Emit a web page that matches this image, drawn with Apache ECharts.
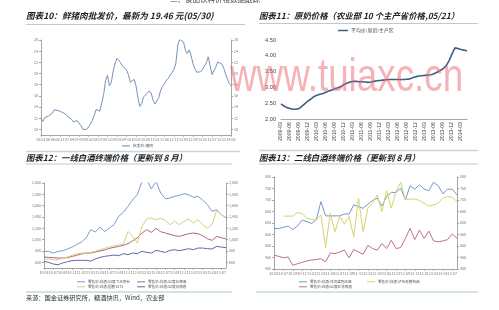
<!DOCTYPE html>
<html><head><meta charset="utf-8">
<script src="https://cdn.jsdelivr.net/npm/echarts@6/dist/echarts.min.js"></script>
<style>html,body{margin:0;padding:0;background:#fff}#c{width:499px;height:310px}</style>
</head><body><div id="c"></div>
<script>
function monthList(y, m, n, fmt) {
  const out = [];
  for (let i = 0; i < n; i++) { out.push(fmt(y, m)); m++; if (m > 12) { m = 1; y++; } }
  return out;
}
const pad = v => (v < 10 ? '0' : '') + v;

// Chart 10: pork wholesale price (monthly)
const porkMonths = monthList(2006, 1, 101, (y, m) => pad(y % 100) + '-' + pad(m));
const porkPrice = [11.94,11.45,12.12,12.18,12.42,12.67,12.91,13.52,13.82,13.39,13.21,13.09,12.97,12.73,12.30,12.12,11.82,11.33,11.09,11.58,11.45,10.67,10.00,9.76,10.00,10.42,10.97,11.64,12.48,13.58,13.64,13.27,14.79,16.30,18.73,19.64,17.82,18.42,20.42,21.88,22.73,22.67,21.88,21.27,21.03,20.67,19.82,18.42,18.48,18.97,17.82,15.70,14.12,14.61,15.82,16.06,16.48,16.91,16.48,15.21,14.55,14.61,15.70,17.03,17.70,18.18,18.79,19.15,19.70,20.18,20.73,21.88,25.09,26.12,26.24,25.64,24.18,23.58,24.24,23.21,21.76,20.85,20.24,19.94,20.30,20.73,20.79,21.88,22.97,21.45,19.82,20.12,21.15,22.06,21.76,21.76,21.15,20.06,19.15,18.24,17.82];
const porkTicks = [10,12,14,16,18,20,22,24,26];

// Chart 11: raw milk price (monthly)
const milkMonths = monthList(2009, 3, 63, (y, m) => y + '-' + pad(m));
const milkPrice = [2.48,2.41,2.36,2.33,2.31,2.31,2.33,2.41,2.49,2.57,2.64,2.71,2.75,2.78,2.81,2.85,2.89,2.92,2.96,2.99,3.03,3.09,3.13,3.17,3.19,3.19,3.18,3.18,3.17,3.16,3.17,3.19,3.21,3.22,3.23,3.24,3.25,3.25,3.25,3.25,3.25,3.25,3.26,3.27,3.31,3.34,3.36,3.37,3.38,3.39,3.40,3.43,3.48,3.53,3.59,3.68,3.84,4.06,4.25,4.23,4.20,4.18,4.15];

// Chart 12: tier-1 baijiu retail prices
const tier1Months = monthList(2010, 5, 40, (y, m) => pad(y % 100) + '-' + pad(m));
const maotai = [793,793,764,793,805,834,870,911,958,1029,1176,1135,1223,1141,1205,1264,1411,1482,1588,1705,1794,2029,2070,1894,2029,1823,1723,1735,1764,1782,1811,1794,1747,1764,1700,1620,1500,1530,1440,1390];
const wuliangye = [694,688,682,676,676,682,705,723,747,764,764,782,800,817,847,864,882,899,929,982,1029,1117,1176,1129,1200,1141,1117,1094,1070,1058,1082,1105,1117,1105,1070,1017,988,1058,1035,1011];
const guojiao = [659,659,647,647,670,694,723,747,764,764,776,794,823,847,870,888,905,917,1146,1058,941,1235,1364,1382,1352,1376,1341,1264,1323,1264,1323,1364,1294,1352,1264,1205,1264,1517,1441,1382];
const jiannanchun = [617,600,570,558,588,611,629,635,635,635,623,659,688,705,717,729,717,753,735,764,753,794,776,764,811,794,776,811,823,806,823,841,823,852,852,841,835,882,870,858];
const tier1Ticks = [600,800,1000,1200,1400,1600,1800,2000];

// Chart 13: tier-2 baijiu retail prices
const tier2Months = monthList(2010, 5, 40, (y, m) => pad(y % 100) + '-' + pad(m));
const yanghe = [576,576,581,587,572,587,613,606,598,613,693,631,631,631,631,639,639,679,671,664,682,698,708,674,715,733,733,752,701,762,747,766,747,741,777,762,727,747,747,722];
const laojiao = [null,null,630,630,630,645,642,620,616,613,635,493,642,562,628,595,628,540,708,562,664,686,722,649,741,664,737,777,701,704,704,698,686,674,679,686,708,715,712,693];
const langjiu = [460,455,449,452,416,423,429,435,439,441,445,431,470,467,474,482,449,485,474,464,503,489,482,511,489,525,489,493,533,577,528,569,533,565,522,518,522,528,552,533];
const tier2Ticks = [400,450,500,550,600,650,700,750,800];

const CJK = '"Noto Sans CJK SC", "Noto Sans", sans-serif';
const axisGray = '#8f8f8f';
const tinyLbl = { fontSize: 3.6, color: '#777', fontFamily: CJK };

function valAxis(grid, pos, min, max, ticks, lbl) {
  return {
    type: 'value', gridIndex: grid, position: pos, min: min, max: max,
    axisLine: { show: true, lineStyle: { color: axisGray, width: 0.8 } },
    axisTick: { show: true, length: 2, customValues: ticks, lineStyle: { color: axisGray, width: 0.8 } },
    axisLabel: Object.assign({ customValues: ticks, margin: 3 }, lbl),
    splitLine: { show: false }
  };
}
function catAxis(grid, data, interval, lbl) {
  return {
    type: 'category', gridIndex: grid, data: data, boundaryGap: false,
    axisLine: { lineStyle: { color: axisGray, width: 0.8 } },
    axisTick: { show: true, length: 2, interval: interval, lineStyle: { color: axisGray, width: 0.6 } },
    axisLabel: Object.assign({ interval: interval, margin: 3 }, lbl)
  };
}
function lineS(name, data, x, y, color, w) {
  return { type: 'line', name: name, data: data, xAxisIndex: x, yAxisIndex: y, symbol: 'none',
    lineStyle: { color: color, width: w }, itemStyle: { color: color }, connectNulls: false, animation: false };
}
function leg(name, left, top, size) {
  return { data: [name], left: left, top: top, icon: 'rect', itemWidth: 8, itemHeight: 1, itemGap: 2,
    padding: 0, textStyle: { fontSize: size, color: '#555', fontFamily: CJK, padding: [0, 0, 0, -2] }, selectedMode: false };
}
function txt(text, x, y, size, opts) {
  return { type: 'text', x: x, y: y, z: 50, style: Object.assign({ text: text, fontSize: size, fontFamily: CJK,
    fill: '#1f1f1f', verticalAlign: 'middle' }, opts || {}) };
}
function hline(x1, x2, y, color, w) {
  return { type: 'line', z: 40, shape: { x1: x1, y1: y, x2: x2, y2: y }, style: { stroke: color, lineWidth: w } };
}

const titleStyle = { fontWeight: 'bold', fontStyle: 'italic' };
const sepColor = '#c6d8e4';

const option = {
  backgroundColor: '#ffffff',
  animation: false,
  grid: [
    { left: 41, right: 268, top: 40, bottom: 175, outerBoundsMode: 'none' },
    { left: 281, right: 32, top: 40, bottom: 191, outerBoundsMode: 'none' },
    { left: 44, right: 273, top: 183, bottom: 42, outerBoundsMode: 'none' },
    { left: 274, right: 42, top: 177, bottom: 41, outerBoundsMode: 'none' }
  ],
  xAxis: [
    catAxis(0, porkMonths, 4, tinyLbl),
    Object.assign(catAxis(1, milkMonths, 2, { fontSize: 5.2, color: '#444', rotate: 90, fontFamily: 'Liberation Sans' }), { axisTick: { show: false } }),
    catAxis(2, tier1Months, 1, tinyLbl),
    catAxis(3, tier2Months, 1, tinyLbl)
  ],
  yAxis: [
    valAxis(0, 'left', 9, 26, porkTicks, tinyLbl),
    valAxis(0, 'right', 9, 26, porkTicks, tinyLbl),
    { type: 'value', gridIndex: 1, min: 2, max: 4.5, interval: 0.5,
      axisLine: { show: false }, axisTick: { show: false }, splitLine: { show: false },
      axisLabel: { fontSize: 5.6, color: '#444', margin: 5, fontFamily: 'Liberation Sans', formatter: v => v.toFixed(2) } },
    valAxis(2, 'left', 500, 2000, tier1Ticks, tinyLbl),
    valAxis(2, 'right', 500, 2000, tier1Ticks, tinyLbl),
    valAxis(3, 'left', 400, 800, tier2Ticks, tinyLbl),
    valAxis(3, 'right', 400, 800, tier2Ticks, tinyLbl)
  ],
  legend: [
    leg('批发价:猪肉', 122, 144, 3.8),
    Object.assign(leg('平均价:原奶:主产区', 338, 28, 5), { itemWidth: 10, itemHeight: 1.5 }),
    leg('零售价:白酒:53度飞天茅台', 77, 280, 3.6),
    leg('零售价:白酒:52度五粮液', 137, 280, 3.6),
    leg('零售价:白酒:国窖1573', 77, 285, 3.6),
    leg('零售价:白酒:52度剑南春', 137, 285, 3.6),
    leg('零售价:白酒:洋河蓝色经典', 299, 280, 3.6),
    leg('零售价:白酒:泸州老窖特曲', 367, 280, 3.6),
    leg('零售价:白酒:52度红花郎酒', 299, 285, 3.6)
  ],
  series: [
    lineS('批发价:猪肉', porkPrice, 0, 0, '#6787ad', 0.9),
    lineS('平均价:原奶:主产区', milkPrice, 1, 2, '#3e5f80', 1.6),
    lineS('零售价:白酒:53度飞天茅台', maotai, 2, 3, '#7d9bcb', 1),
    lineS('零售价:白酒:52度五粮液', wuliangye, 2, 3, '#b0677a', 1),
    lineS('零售价:白酒:国窖1573', guojiao, 2, 3, '#d9d07c', 1),
    lineS('零售价:白酒:52度剑南春', jiannanchun, 2, 3, '#6b63a6', 1),
    lineS('零售价:白酒:洋河蓝色经典', yanghe, 3, 5, '#7398c9', 1),
    lineS('零售价:白酒:泸州老窖特曲', laojiao, 3, 5, '#d6d46c', 1),
    lineS('零售价:白酒:52度红花郎酒', langjiu, 3, 5, '#c06f8c', 1)
  ],
  graphic: [
    txt('二、食品饮料价格数据跟踪', 170, -1, 7.5, { fill: '#444' }),
    txt('图表10：鲜猪肉批发价，最新为 19.46 元(05/30)', 26, 16, 8.6, titleStyle),
    txt('图表11：原奶价格（农业部 10 个主产省价格,05/21）', 259, 16, 8.4, titleStyle),
    txt('图表12：一线白酒终端价格（更新到 8 月）', 26, 157.5, 8.4, titleStyle),
    txt('图表13：二线白酒终端价格（更新到 8 月）', 259, 157.5, 8.4, titleStyle),
    txt('来源：国金证券研究所，糖酒快讯，Wind，农业部', 26, 297.5, 6.2, { fill: '#333' }),
    hline(26, 245, 24.5, '#b9c9d6', 1),
    hline(259, 478, 23.5, '#b9c9d6', 1),
    hline(26, 240, 151.5, sepColor, 1.5),
    hline(259, 478, 150.5, sepColor, 1.5),
    hline(26, 232, 164, '#b9c9d6', 1),
    hline(259, 478, 164, '#b9c9d6', 1),
    hline(26, 232, 292, sepColor, 1.5),
    hline(256, 478, 292, sepColor, 1.5),
    { type: 'text', x: 230, y: 78, z: 100, scaleX: 0.8, scaleY: 1, style: { text: 'www.tuiaxc.cn', fontSize: 46,
      fontFamily: '"Liberation Sans", sans-serif', fill: 'rgba(234,96,106,0.48)', verticalAlign: 'middle' } }
  ]
};
const chart = echarts.init(document.getElementById('c'), null, { renderer: 'canvas' });
chart.setOption(option);
</script></body></html>
